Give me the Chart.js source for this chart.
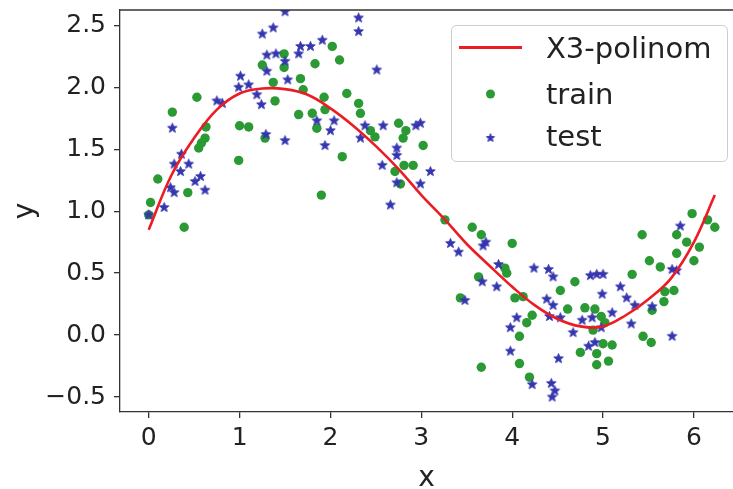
<!DOCTYPE html>
<html>
<head>
<meta charset="utf-8">
<title>X3-polinom fit</title>
<script src="https://cdn.jsdelivr.net/npm/chart.js@4.4.0/dist/chart.umd.min.js"></script>
<style>
    html, body { margin: 0; padding: 0; overflow: hidden; background: #fff; }
</style>
</head>
<body>
<canvas id="polyChart" width="733" height="489"></canvas>
<script>
// Series names (legend order).
const seriesNames = ['X3-polinom', 'train', 'test'];
// Fitted cubic.
const curveX = [0, 0.25, 0.5, 0.75, 1.0, 1.25, 1.5, 1.75, 2.0, 2.25, 2.5, 2.75, 3.0,
    3.25, 3.5, 3.75, 4.0, 4.25, 4.5, 4.75, 5.0, 5.25, 5.5, 5.75, 6.0, 6.23];
const curveY = [0.85, 1.29, 1.59, 1.82, 1.95, 1.99, 1.985, 1.94, 1.83, 1.69, 1.525, 1.34, 1.13,
    0.94, 0.735, 0.56, 0.39, 0.24, 0.13, 0.07, 0.07, 0.16, 0.29, 0.46, 0.75, 1.13];
// Train points (green circles).
const trainX = [0.53, 0.26, 0.63, 0.62, 0.58, 0.55, 0.10, 0.43, 0.02, 0.00, 1.00, 1.10, 0.99, 1.25, 1.37,
    1.49, 1.49, 1.39, 1.67, 1.70, 1.83, 1.65, 1.80, 1.93, 1.94, 1.85, 1.28, 1.90, 2.02, 0.39,
    2.10, 2.18, 2.31, 2.33, 2.13, 2.44, 2.49, 2.75, 2.83, 2.80, 3.02, 2.81, 2.91, 2.71, 2.77,
    3.26, 3.56, 3.66, 4.00, 3.92, 3.94, 3.63, 4.03, 4.12, 3.43, 4.16, 4.08, 4.08, 3.66, 4.19,
    5.98, 6.15, 6.23, 5.43, 5.81, 5.92, 6.06, 5.81, 6.00, 5.51, 5.63, 5.32, 5.78, 5.68, 5.67,
    5.54, 4.69, 4.53, 4.61, 4.80, 4.91, 4.22, 4.98, 5.02, 4.89, 5.00, 5.10, 4.75, 4.93, 5.06,
    4.93, 5.44, 5.53];
const trainY = [1.92, 1.80, 1.68, 1.59, 1.55, 1.51, 1.26, 1.15, 1.07, 0.97, 1.69, 1.68, 1.41, 2.18, 2.04,
    2.27, 2.16, 1.89, 2.07, 1.98, 2.19, 1.78, 1.79, 1.92, 1.82, 1.67, 1.59, 1.13, 2.33, 0.87,
    2.22, 1.95, 1.87, 1.79, 1.44, 1.65, 1.60, 1.71, 1.65, 1.59, 1.53, 1.37, 1.37, 1.32, 1.22,
    0.93, 0.87, 0.81, 0.74, 0.54, 0.50, 0.47, 0.30, 0.31, 0.30, 0.10, -0.01, -0.23, -0.26, -0.34,
    0.98, 0.93, 0.87, 0.81, 0.81, 0.75, 0.71, 0.66, 0.60, 0.60, 0.55, 0.49, 0.36, 0.35, 0.27,
    0.20, 0.43, 0.36, 0.21, 0.22, 0.21, 0.16, 0.15, 0.10, 0.04, -0.07, -0.08, -0.14, -0.15, -0.21,
    -0.24, -0.01, -0.06];
// Test points (blue stars).
const testX = [1.50, 1.37, 1.25, 1.30, 1.40, 1.50, 1.30, 1.53, 1.67, 1.78, 1.91, 1.65, 1.01, 0.99, 1.10,
    1.19, 1.24, 0.75, 0.81, 0.26, 1.29, 1.50, 1.94, 1.85, 2.00, 0.36, 0.28, 0.44, 0.35, 0.57,
    0.51, 0.24, 0.28, 0.62, 0.17, 0.00,
    2.31, 2.31, 2.51, 2.04, 2.38, 2.33, 2.58, 2.94, 2.99, 2.73, 2.73, 2.57, 3.10, 2.73, 2.99, 2.66,
    3.32, 3.41, 3.68, 3.71, 3.85, 3.67, 3.83, 3.48, 4.05, 3.98, 3.98,
    5.85, 4.24, 4.40, 4.45, 4.86, 4.93, 5.00, 5.76, 5.81, 4.99, 5.19, 5.26, 5.35, 5.10, 5.54,
    4.38, 4.45, 4.41, 4.53, 4.77, 4.88, 4.98, 4.67, 5.31, 4.84, 4.91, 5.76, 4.51, 4.22, 4.43,
    4.47, 4.44];
const testY = [2.61, 2.48, 2.43, 2.26, 2.27, 2.21, 2.13, 2.06, 2.33, 2.33, 2.38, 2.27, 2.09, 2.00, 2.02,
    1.94, 1.86, 1.89, 1.87, 1.67, 1.62, 1.57, 1.53, 1.73, 1.65, 1.46, 1.38, 1.38, 1.32, 1.28,
    1.24, 1.19, 1.15, 1.17, 1.03, 0.97,
    2.56, 2.45, 2.14, 1.73, 1.69, 1.59, 1.69, 1.69, 1.71, 1.51, 1.45, 1.37, 1.32, 1.23, 1.22, 1.05,
    0.74, 0.67, 0.72, 0.75, 0.57, 0.43, 0.39, 0.28, 0.14, 0.06, -0.13,
    0.88, 0.54, 0.53, 0.47, 0.48, 0.49, 0.49, 0.53, 0.52, 0.33, 0.39, 0.30, 0.24, 0.18, 0.23,
    0.29, 0.24, 0.15, 0.14, 0.12, 0.14, 0.06, 0.02, 0.09, -0.09, -0.06, -0.01, -0.19, -0.40, -0.39,
    -0.45, -0.50];
// Tick values.
const xTickValues = [0, 1, 2, 3, 4, 5, 6];
const yTickValues = [-0.5, 0.0, 0.5, 1.0, 1.5, 2.0, 2.5];

const RED = '#ec1c24';
const GREEN = '#2b9a35';
const BLUE = '#3535b0';
const TEXT = '#222';
const AXIS = '#333';

// Builds a filled 5-point star sprite (matplotlib '*' marker).
function makeStar(color, outer) {
    const size = Math.ceil(outer * 2 + 3);
    const c = document.createElement('canvas');
    c.width = size; c.height = size;
    const g = c.getContext('2d');
    g.fillStyle = color; g.strokeStyle = color; g.lineWidth = 1;
    g.beginPath();
    for (let i = 0; i < 10; i++) {
        const r = i % 2 === 0 ? outer : outer * 0.42;
        const a = -Math.PI / 2 + i * Math.PI / 5;
        g.lineTo(size / 2 + r * Math.cos(a), size / 2 + r * Math.sin(a));
    }
    g.closePath(); g.fill(); g.stroke();
    return c;
}
const starSprite = makeStar(BLUE, 5);
const legendStar = makeStar(BLUE, 4.3);

const zip = (xs, ys) => xs.map((x, i) => ({x: x, y: ys[i]}));

// Top spine like matplotlib (right spine falls outside the picture).
const frame = {
    id: 'frame',
    afterDatasetsDraw(chart) {
        const {ctx, chartArea: a} = chart;
        ctx.save();
        ctx.strokeStyle = AXIS; ctx.lineWidth = 1.3;
        ctx.beginPath();
        ctx.moveTo(a.left, a.top); ctx.lineTo(a.right, a.top);
        ctx.stroke();
        ctx.restore();
    }
};

// Legend box drawn inside the plot, upper right.
const legendBox = {
    id: 'legendBox',
    afterDraw(chart) {
        const {ctx, chartArea: a} = chart;
        const left = 451, top = a.top + 15;
        const right = left + 276, bottom = top + 136;
        ctx.save();
        ctx.beginPath();
        ctx.roundRect(left + 0.5, top + 0.5, right - left, bottom - top, 5);
        ctx.fillStyle = 'rgba(255,255,255,0.8)';
        ctx.fill();
        ctx.strokeStyle = '#cccccc'; ctx.lineWidth = 1;
        ctx.stroke();
        const ds = chart.data.datasets;
        const mx = left + 39.5;
        // line entry
        ctx.strokeStyle = ds[0].borderColor; ctx.lineWidth = 3;
        ctx.beginPath(); ctx.moveTo(left + 8, top + 22.5); ctx.lineTo(left + 71, top + 22.5); ctx.stroke();
        // circle entry
        ctx.fillStyle = ds[1].backgroundColor;
        ctx.beginPath(); ctx.arc(mx, top + 69, 4.5, 0, Math.PI * 2); ctx.fill();
        // star entry
        ctx.drawImage(legendStar, mx - legendStar.width / 2, top + 113 - legendStar.height / 2);
        ctx.fillStyle = TEXT;
        ctx.font = '29px "DejaVu Sans"';
        ctx.textBaseline = 'alphabetic';
        const baselines = [33, 79, 120.5];
        ds.forEach((d, i) => ctx.fillText(d.label, left + 95, top + baselines[i]));
        ctx.restore();
    }
};

Chart.defaults.font.family = '"DejaVu Sans"';
Chart.defaults.color = TEXT;

const ctx = document.getElementById('polyChart').getContext('2d');
new Chart(ctx, {
    type: 'scatter',
    data: {
        datasets: [{
            label: seriesNames[0],
            data: zip(curveX, curveY),
            showLine: true,
            borderColor: RED,
            borderWidth: 2.6,
            pointRadius: 0,
            tension: 0.4,
            order: 0
        }, {
            label: seriesNames[1],
            data: zip(trainX, trainY),
            backgroundColor: GREEN,
            borderWidth: 0,
            pointRadius: 4.7,
            order: 2
        }, {
            label: seriesNames[2],
            data: zip(testX, testY),
            backgroundColor: BLUE,
            pointStyle: starSprite,
            order: 1
        }]
    },
    options: {
        responsive: false,
        animation: false,
        devicePixelRatio: 1,
        layout: {autoPadding: false, padding: {left: 0, right: 0, top: 10, bottom: 0}},
        plugins: {legend: {display: false}, tooltip: {enabled: false}},
        scales: {
            x: {
                type: 'linear',
                min: -0.316,
                max: 6.43,
                afterBuildTicks: s => { s.ticks = xTickValues.map(v => ({value: v})); },
                afterFit: s => { s.height = 77; s.paddingLeft = 0; s.paddingRight = 0; },
                ticks: {font: {size: 25}, color: TEXT, padding: 5, callback: v => String(v)},
                grid: {drawOnChartArea: false, tickLength: 6, color: AXIS, lineWidth: 1.3},
                border: {color: AXIS, width: 1.3},
                title: {display: true, text: 'x', font: {size: 28}, color: TEXT, padding: {top: 0, bottom: -7}}
            },
            y: {
                type: 'linear',
                min: -0.621,
                max: 2.624,
                afterBuildTicks: s => { s.ticks = yTickValues.map(v => ({value: v})); },
                afterFit: s => { s.width = 120; s.paddingTop = 0; s.paddingBottom = 0; },
                ticks: {
                    font: {size: 25}, color: TEXT, padding: 8,
                    callback: v => (v < 0 ? '\u2212' : '') + Math.abs(v).toFixed(1)
                },
                grid: {drawOnChartArea: false, tickLength: 6, color: AXIS, lineWidth: 1.3},
                border: {color: AXIS, width: 1.3},
                title: {display: true, text: 'y', font: {size: 28}, color: TEXT, padding: {top: 9, bottom: 0}}
            }
        }
    },
    plugins: [frame, legendBox]
});
</script>
</body>
</html>
